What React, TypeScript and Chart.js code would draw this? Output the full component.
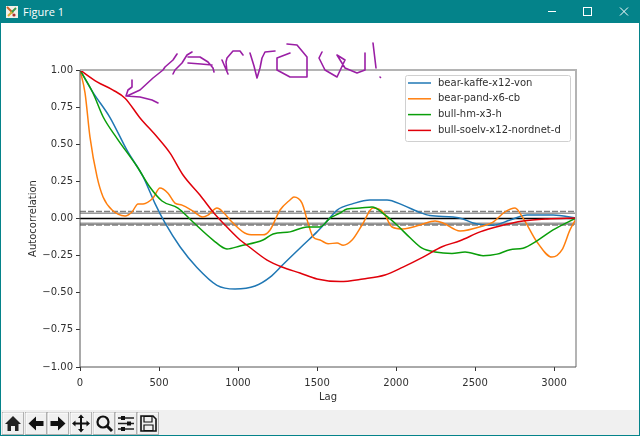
import React, { useEffect, useRef } from "react";
import { Chart, registerables } from "chart.js";

Chart.register(...registerables);

const kaffeLags = [0, 82, 190, 297, 400, 475, 538, 633, 740, 867, 981, 1108, 1203, 1285, 1411, 1500, 1570, 1627, 1728, 1835, 1943, 2044, 2152, 2215, 2361, 2424, 2487, 2614, 2722, 2829, 2994, 3139];
const kaffeValues = [1, 0.85, 0.68, 0.46, 0.28, 0.1, -0.03, -0.19, -0.33, -0.45, -0.475, -0.455, -0.395, -0.31, -0.18, -0.09, -0.01, 0.057, 0.1, 0.125, 0.125, 0.09, 0.04, 0.02, 0.01, -0.003, -0.03, -0.045, -0.01, 0.024, 0.024, 0.003];
const pandLags = [0, 32, 63, 108, 146, 203, 285, 329, 367, 399, 462, 506, 557, 601, 646, 715, 778, 810, 867, 905, 962, 1057, 1120, 1158, 1203, 1266, 1329, 1354, 1405, 1443, 1475, 1519, 1570, 1627, 1665, 1722, 1785, 1854, 1918, 1975, 2044, 2152, 2247, 2297, 2405, 2551, 2614, 2690, 2753, 2804, 2892, 2987, 3051, 3101, 3139];
const pandValues = [1, 0.845, 0.55, 0.28, 0.145, 0.057, 0.017, 0.044, 0.098, 0.098, 0.138, 0.205, 0.17, 0.104, 0.09, 0.05, 0.01, 0.023, 0.07, 0.044, -0.024, -0.104, -0.11, -0.11, -0.077, 0.057, 0.125, 0.145, 0.104, -0.03, -0.125, -0.145, -0.17, -0.165, -0.18, -0.145, -0.044, 0.07, 0.044, -0.057, -0.07, -0.044, -0.017, -0.03, -0.084, -0.05, -0.024, 0.044, 0.07, 0.003, -0.158, -0.26, -0.21, -0.077, -0.003];
const hmLags = [0, 82, 146, 234, 361, 443, 519, 620, 715, 842, 930, 1013, 1158, 1222, 1329, 1437, 1519, 1582, 1646, 1690, 1772, 1848, 1930, 2006, 2089, 2165, 2247, 2354, 2437, 2551, 2639, 2722, 2804, 2892, 2994, 3139];
const hmValues = [1, 0.845, 0.685, 0.54, 0.35, 0.21, 0.118, 0.07, -0.024, -0.145, -0.205, -0.185, -0.145, -0.104, -0.09, -0.057, -0.057, 0.003, 0.037, 0.064, 0.07, 0.077, 0.024, -0.044, -0.13, -0.2, -0.225, -0.235, -0.225, -0.25, -0.24, -0.21, -0.2, -0.15, -0.077, 0.003];
const soelvLags = [0, 108, 209, 285, 380, 487, 570, 652, 759, 842, 905, 1013, 1057, 1184, 1278, 1392, 1500, 1646, 1791, 1930, 2044, 2171, 2291, 2405, 2532, 2658, 2804, 2956, 3139];
const soelvValues = [1, 0.92, 0.865, 0.81, 0.677, 0.55, 0.44, 0.293, 0.158, 0.044, -0.03, -0.145, -0.18, -0.28, -0.327, -0.367, -0.407, -0.425, -0.407, -0.38, -0.327, -0.26, -0.19, -0.15, -0.09, -0.05, -0.017, -0.003, 0.003];

const seriesNames = ["bear-kaffe-x12-von", "bear-pand-x6-cb", "bull-hm-x3-h", "bull-soelv-x12-nordnet-d"];
const seriesColors = ["#1f77b4", "#ff7f0e", "#0a9e0a", "#e0000a"];
const solidBands = [0.035, -0.035];
const dashedBands = [0.047, -0.043];
const zeroLevel = [0];
const lagRange = [0, 3139];
const xTicks = [0, 500, 1000, 1500, 2000, 2500, 3000];
const yTicks = [-1, -0.75, -0.5, -0.25, 0, 0.25, 0.5, 0.75, 1];

const pts = (xs: number[], ys: number[]) => xs.map((x, i) => ({ x, y: ys[i] }));
const level = (v: number) => lagRange.map((x) => ({ x, y: v }));

const frame = {
  id: "frame",
  afterDraw(chart: any) {
    const { ctx, chartArea: a } = chart;
    ctx.save();
    ctx.strokeStyle = "#b4b4b4";
    ctx.lineWidth = 2;
    ctx.beginPath();
    ctx.moveTo(a.left, a.top);
    ctx.lineTo(a.right, a.top);
    ctx.lineTo(a.right, a.bottom);
    ctx.stroke();
    ctx.strokeStyle = "#555";
    ctx.lineWidth = 1;
    ctx.beginPath();
    ctx.moveTo(a.left, a.top);
    ctx.lineTo(a.left, a.bottom);
    ctx.lineTo(a.right, a.bottom);
    ctx.stroke();
    // legend box in the upper right of the axes
    const L = 405, T = 75, W = 165, H = 66;
    ctx.fillStyle = "rgba(255,255,255,0.85)";
    ctx.strokeStyle = "#d0d0d0";
    ctx.beginPath();
    ctx.roundRect(L + 0.5, T + 0.5, W, H, 2);
    ctx.fill();
    ctx.stroke();
    ctx.font = "10px 'DejaVu Sans'";
    ctx.textBaseline = "middle";
    seriesNames.forEach((n, i) => {
      const y = T + 8 + i * 15.8;
      ctx.strokeStyle = seriesColors[i];
      ctx.lineWidth = 1.5;
      ctx.beginPath();
      ctx.moveTo(L + 3, y);
      ctx.lineTo(L + 26, y);
      ctx.stroke();
      ctx.fillStyle = "#303030";
      ctx.fillText(n, L + 33, y);
    });
    ctx.restore();
  },
};

const ann = [
  "M177 54 L173 60 L165 67 L163 70 L153 78 L140 90 L127 96",
  "M132 80 L132 87 L128 90 L126 96 L140 97 L152 100 L158 103",
  "M173 74 L175 70 L182 63 L187 55 L192 52 M188 57 L200 57 L208 62 L213 68 L214 72",
  "M188 63 L201 64 L212 65",
  "M222 60 L225 67 L228 74 M227 72 L226 62 L227 58 L233 51 L240 51 L243 55",
  "M250 53 L254 66 L257 78 L260 68 L262 58 L265 52 L275 51",
  "M287 44 L297 45 L307 57 L307 77 L290 77 L277 70 L277 58 L290 53",
  "M322 52 L319 58 L325 70 L337 77 L345 60 L337 55 L345 68 L357 73 L365 70 L365 53",
  "M373 43 L376 68",
  "M380 77 L380.5 77.5",
];

function Btn({ x, children }: { x: number; children: React.ReactNode }) {
  return (
    <g transform={`translate(${x},412)`}>
      <rect x={0.5} y={0.5} width={21} height={22} fill="#f0f0f0" stroke="#b0b0b0" />
      <path d="M1 22V1H21" fill="none" stroke="#fff" />
      {children}
    </g>
  );
}

export default function App() {
  const ref = useRef<HTMLCanvasElement>(null);
  useEffect(() => {
    const base = { pointRadius: 0, borderWidth: 1.5, fill: false };
    const series = [
      pts(kaffeLags, kaffeValues),
      pts(pandLags, pandValues),
      pts(hmLags, hmValues),
      pts(soelvLags, soelvValues),
    ].map((data, i) => ({
      ...base,
      label: seriesNames[i],
      data,
      borderColor: seriesColors[i],
      cubicInterpolationMode: "monotone" as const,
      order: 4 - i,
    }));
    const refs = [
      ...solidBands.map((v) => ({ ...base, data: level(v), borderColor: "#9a9a9a", borderWidth: v < 0 ? 2.5 : 1.5, order: 9 })),
      ...dashedBands.map((v) => ({ ...base, data: level(v), borderColor: "#808080", borderDash: [6, 2], borderWidth: 1.5, order: 8 })),
      ...zeroLevel.map((v) => ({ ...base, data: level(v), borderColor: "#000", borderWidth: 1.5, order: 5 })),
    ];
    const chart = new Chart(ref.current!, {
      type: "line",
      data: { datasets: [...refs, ...series] as any },
      options: {
        animation: false,
        responsive: false,
        parsing: false,
        layout: { padding: { left: 27, right: 64, top: 70, bottom: 33 } },
        plugins: { legend: { display: false }, tooltip: { enabled: false } },
        scales: {
          x: {
            type: "linear",
            min: lagRange[0],
            max: lagRange[1],
            afterBuildTicks: (s: any) => { s.ticks = xTicks.map((value) => ({ value })); },
            afterFit: (s: any) => { s.height = 36; },
            grid: { drawOnChartArea: false, tickLength: 4, color: "#333" },
            border: { display: false },
            ticks: { color: "#303030", font: { family: "DejaVu Sans", size: 10 }, maxRotation: 0, padding: 6, callback: (v: any) => String(v) },
            title: { display: true, text: "Lag", color: "#303030", font: { family: "DejaVu Sans", size: 10 }, padding: { top: 0, bottom: 0 } },
          },
          y: {
            type: "linear",
            min: -1,
            max: 1,
            afterBuildTicks: (s: any) => { s.ticks = yTicks.map((value) => ({ value })); },
            afterFit: (s: any) => { s.width = 53; },
            grid: { drawOnChartArea: false, tickLength: 4, color: "#333" },
            border: { display: false },
            ticks: {
              color: "#303030",
              font: { family: "DejaVu Sans", size: 10 },
              padding: 3,
              callback: (v: any) => Number(v).toFixed(2).replace("-", "\u2212"),
            },
            title: { display: true, text: "Autocorrelation", color: "#303030", font: { family: "DejaVu Sans", size: 10 }, padding: { top: 0, bottom: 4 } },
          },
        },
      },
      plugins: [frame],
    } as any);
    return () => chart.destroy();
  }, []);

  return (
    <div style={{ position: "fixed", left: 0, top: 0, width: 640, height: 436, background: "#fff", overflow: "hidden" }}>
      <div style={{ position: "absolute", left: 0, top: 0, width: 640, height: 23, background: "#04838a" }} />
      <div style={{ position: "absolute", left: 23, top: 3, color: "#fff", font: "11px 'Open Sans'", lineHeight: "17px" }}>Figure 1</div>
      <div style={{ position: "absolute", left: 0, top: 23, width: 1, height: 413, background: "#04838a" }} />
      <div style={{ position: "absolute", left: 639, top: 23, width: 1, height: 413, background: "#04838a" }} />
      <div style={{ position: "absolute", left: 1, top: 410, width: 638, height: 25, background: "#f0f0f0" }} />
      <div style={{ position: "absolute", left: 0, top: 435, width: 640, height: 1, background: "#04838a" }} />
      <canvas ref={ref} width={640} height={436} style={{ position: "absolute", left: 0, top: 0, display: "block" }} />
      <svg width={640} height={436} style={{ position: "absolute", left: 0, top: 0 }}>
        <g>
          <rect x={6} y={6} width={12} height={12} fill="#f4f0e8" />
          <path d="M7 7L13 13" stroke="#c8642a" strokeWidth={2} />
          <path d="M16 8L11 13" stroke="#3a9a4a" strokeWidth={2} />
          <path d="M8 16L12 12" stroke="#d8b030" strokeWidth={2} />
          <circle cx={14} cy={15} r={1.6} fill="#b03030" />
        </g>
        <path d="M548 11.5H556" stroke="#fff" />
        <rect x={583.5} y={7.5} width={8} height={8} fill="none" stroke="#fff" />
        <path d="M620 7.5L628 15.5M628 7.5L620 15.5" stroke="#fff" />
        <path d={ann.join(" ")} fill="none" stroke="#9a1fa5" strokeWidth={1.6} strokeLinejoin="round" strokeLinecap="round" />
        <Btn x={2}><path d="M11 4L3 12H5.5V19H9V14H13V19H16.5V12H19Z" fill="#222" /></Btn>
        <Btn x={25}><path d="M3.5 11.5L11 4.5V9H18.5V14H11V18.5Z" fill="#111" /></Btn>
        <Btn x={47}><path d="M18.5 11.5L11 4.5V9H3.5V14H11V18.5Z" fill="#111" /></Btn>
        <Btn x={70}><path d="M11 2.5L14 6H12V10.5H16.5V8.5L20 11.5L16.5 14.5V12.5H12V17H14L11 20.5L8 17H10V12.5H5.5V14.5L2 11.5L5.5 8.5V10.5H10V6H8Z" fill="#111" /></Btn>
        <Btn x={93}><circle cx={10} cy={10} r={5.5} fill="none" stroke="#111" strokeWidth={2.2} /><path d="M14 14L19 19" stroke="#111" strokeWidth={3} /></Btn>
        <Btn x={115}><path d="M3 6H19M3 11.5H19M3 17H19" stroke="#222" strokeWidth={1.4} /><rect x={6} y={4} width={4} height={4} fill="#111" /><rect x={12} y={9.5} width={4} height={4} fill="#111" /><rect x={6} y={15} width={4} height={4} fill="#111" /></Btn>
        <Btn x={137}><path d="M4 4H16L19 7V19H4Z" fill="none" stroke="#111" strokeWidth={1.6} /><path d="M7 4.5H15V10H7ZM7 13H16V18.5H7Z" fill="none" stroke="#111" strokeWidth={1.2} /></Btn>
      </svg>
    </div>
  );
}
